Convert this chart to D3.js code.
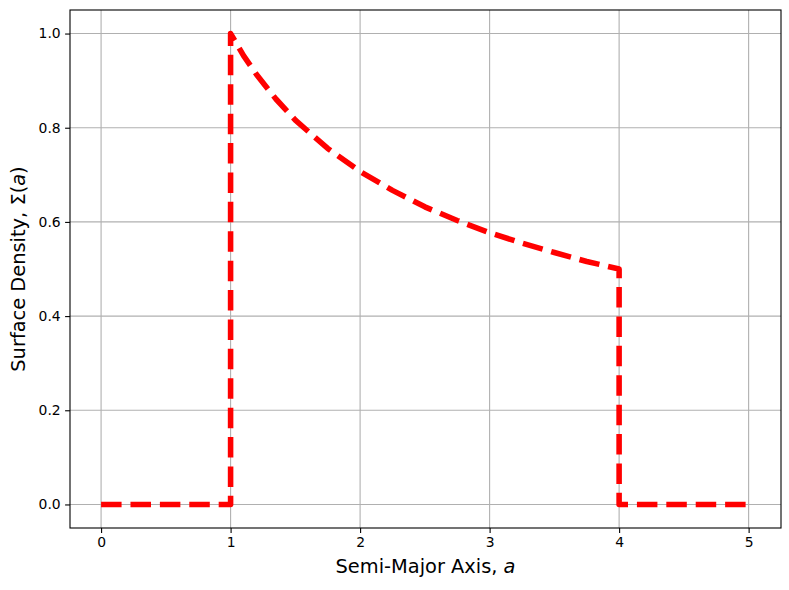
<!DOCTYPE html>
<html lang="en">
<head>
<meta charset="UTF-8">
<title>Surface density</title>
<script src="https://d3js.org/d3.v7.min.js"></script>
<style>
  body { margin: 0; background: #fff; }
  text { font-family: "DejaVu Sans", sans-serif; }
</style>
</head>
<body>
<script>
// semi-major axis values and the surface density
const aVals = [0, 1, 1, 1.1, 1.2, 1.35, 1.5, 1.75, 2, 2.25, 2.5, 2.75, 3, 3.25, 3.5, 3.75, 4, 4, 5];
const sigmaVals = [0, 0, 1, 0.953, 0.913, 0.861, 0.816, 0.756, 0.707, 0.667, 0.632, 0.603, 0.577, 0.555, 0.535, 0.516, 0.5, 0, 0];
const xTicks = [0, 1, 2, 3, 4, 5];
const yTicks = [0, 0.2, 0.4, 0.6, 0.8, 1.0];

const width = 789, height = 590;
const mLeft = 70, mRight = 781, mTop = 10, mBottom = 528;

const svg = d3.select('body').append('svg').attr('width', width).attr('height', height);

const x = d3.scaleLinear().domain([-0.24, 5.25]).range([mLeft, mRight]);
const y = d3.scaleLinear().domain([-0.05, 1.05]).range([mBottom, mTop]);

// grid
svg.append('g').selectAll('line').data(xTicks).join('line')
  .attr('x1', d => x(d)).attr('x2', d => x(d))
  .attr('y1', mTop).attr('y2', mBottom)
  .style('stroke', '#b0b0b0').style('stroke-width', 1.1);
svg.append('g').selectAll('line').data(yTicks).join('line')
  .attr('x1', mLeft).attr('x2', mRight)
  .attr('y1', d => y(d)).attr('y2', d => y(d))
  .style('stroke', '#b0b0b0').style('stroke-width', 1.1);

// axes
const xAxis = svg.append('g').attr('transform', `translate(0,${mBottom})`)
  .call(d3.axisBottom(x).tickValues(xTicks).tickFormat(d3.format('d')).tickSize(4.9).tickPadding(4.4));
const yAxis = svg.append('g').attr('transform', `translate(${mLeft},0)`)
  .call(d3.axisLeft(y).tickValues(yTicks).tickFormat(d3.format('.1f')).tickSize(4.9).tickPadding(4.4));
[xAxis, yAxis].forEach(g => {
  g.select('.domain').remove();
  g.selectAll('line').style('stroke', '#000').style('stroke-width', 1.1);
  g.selectAll('text').style('font-family', '"DejaVu Sans", sans-serif').style('font-size', '13.9px').style('fill', '#000');
});

// the curve
const pts = aVals.map((a, i) => [a, sigmaVals[i]]);
svg.append('path')
  .datum(pts)
  .attr('d', d3.line().x(d => x(d[0])).y(d => y(d[1])))
  .style('fill', 'none')
  .style('stroke', '#ff0000')
  .style('stroke-width', 5.56)
  .style('stroke-dasharray', '20.5,8.9')
  .style('stroke-linejoin', 'round')
  .style('stroke-linecap', 'butt');

// frame
svg.append('rect')
  .attr('x', mLeft).attr('y', mTop)
  .attr('width', mRight - mLeft).attr('height', mBottom - mTop)
  .style('fill', 'none').style('stroke', '#000').style('stroke-width', 1.1);

// labels
const xl = svg.append('text')
  .attr('x', (mLeft + mRight) / 2).attr('y', 573)
  .attr('text-anchor', 'middle')
  .style('font-size', '19.4px');
xl.append('tspan').text('Semi-Major Axis, ');
xl.append('tspan').style('font-style', 'italic').text('a');

const yl = svg.append('text')
  .attr('transform', `translate(25,${(mTop + mBottom) / 2}) rotate(-90)`)
  .attr('text-anchor', 'middle')
  .style('font-size', '19.4px');
yl.append('tspan').text('Surface Density, Σ(');
yl.append('tspan').style('font-style', 'italic').text('a');
yl.append('tspan').text(')');
</script>
</body>
</html>
